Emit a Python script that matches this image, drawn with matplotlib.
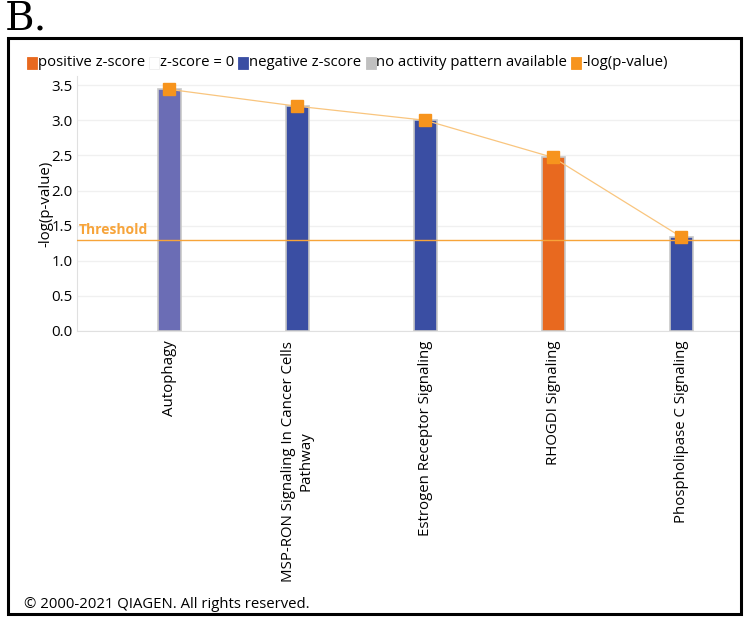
import matplotlib
matplotlib.use("Agg")
from matplotlib import pyplot as plt
from matplotlib.patches import Rectangle

# pathway enrichment data
pathways = [
    "Autophagy",
    "MSP-RON Signaling In Cancer Cells\nPathway",
    "Estrogen Receptor Signaling",
    "RHOGDI Signaling",
    "Phospholipase C Signaling",
]
neg_log_p = [3.44, 3.20, 3.00, 2.47, 1.34]
bar_colors = ["#6b6db5", "#3a4ea3", "#3a4ea3", "#e8691f", "#3a4ea3"]
threshold = 1.3

legend_labels = ["positive z-score", "z-score = 0", "negative z-score",
                 "no activity pattern available", "-log(p-value)"]
legend_colors = ["#e8691f", "#ffffff", "#3a4ea3", "#c0c0c0", "#f7941d"]

W, H = 745, 617
fig = plt.figure(figsize=(W / 100, H / 100), dpi=100)
plt.rcParams['font.family'] = ['Open Sans', 'DejaVu Sans']

# outer frame
fig.patches.append(Rectangle((8 / W, 3 / H), 733 / W, 576 / H, transform=fig.transFigure,
                             fill=False, edgecolor="black", linewidth=2.2))
fig.text(5 / W, 1 - 19 / H, "B.", family="DejaVu Serif", fontsize=29, va="center", ha="left")

# legend row
x = 27
for lab, col in zip(legend_labels, legend_colors):
    fig.patches.append(Rectangle((x / W, 1 - 69 / H), 10 / W, 12 / H, transform=fig.transFigure,
                                 facecolor=col, edgecolor="#eeeeee" if col == "#ffffff" else col, linewidth=0.6))
    t = fig.text((x + 11) / W, 1 - 63 / H, lab, fontsize=10.7, va="center", ha="left")
    fig.canvas.draw()
    bb = t.get_window_extent()
    x = bb.x1 + 4

ax = fig.add_axes([77 / W, 1 - 331 / H, 663 / W, 255 / H])
xs = range(len(pathways))
ax.bar(xs, neg_log_p, width=0.18, color=bar_colors, edgecolor="#c8c8c8", linewidth=1.2, zorder=2)
ax.plot(xs, neg_log_p, color="#f9c57e", linewidth=0.9, zorder=3)
ax.plot(xs, neg_log_p, linestyle="none", marker="s", markersize=8, color="#f7941d", zorder=4)
ax.axhline(threshold, color="#f7a43a", linewidth=1, zorder=3)
ax.text(-0.71, threshold + 0.04, "Threshold", color="#f7a43a", fontsize=10, fontweight="bold",
        ha="left", va="bottom")

ax.set_xlim(-0.72, 4.46)
ax.set_ylim(0, 3.63)
ax.set_yticks([0, 0.5, 1.0, 1.5, 2.0, 2.5, 3.0, 3.5])
ax.set_yticklabels(["0.0", "0.5", "1.0", "1.5", "2.0", "2.5", "3.0", "3.5"])
ax.yaxis.grid(True, color="#f0f0f0", linewidth=1, zorder=0)
ax.set_axisbelow(True)
ax.set_xticks(list(xs))
ax.set_xticklabels(pathways, rotation=90, ha="center", va="top", fontsize=11, multialignment="center")
ax.tick_params(axis="both", length=0, labelsize=10.8)
ax.tick_params(axis="x", pad=7)
ax.tick_params(axis="y", pad=3)
for s in ["top", "right"]:
    ax.spines[s].set_visible(False)
ax.spines["left"].set_color("#e0e0e0")
ax.spines["bottom"].set_color("#e0e0e0")
ax.set_ylabel("-log(p-value)", fontsize=10.8, labelpad=-1)

fig.text(24 / W, 1 - 604 / H, "\u00a9 2000-2021 QIAGEN. All rights reserved.", fontsize=10.7,
         ha="left", va="center")

fig.savefig("out.png", dpi=100, facecolor="white")
